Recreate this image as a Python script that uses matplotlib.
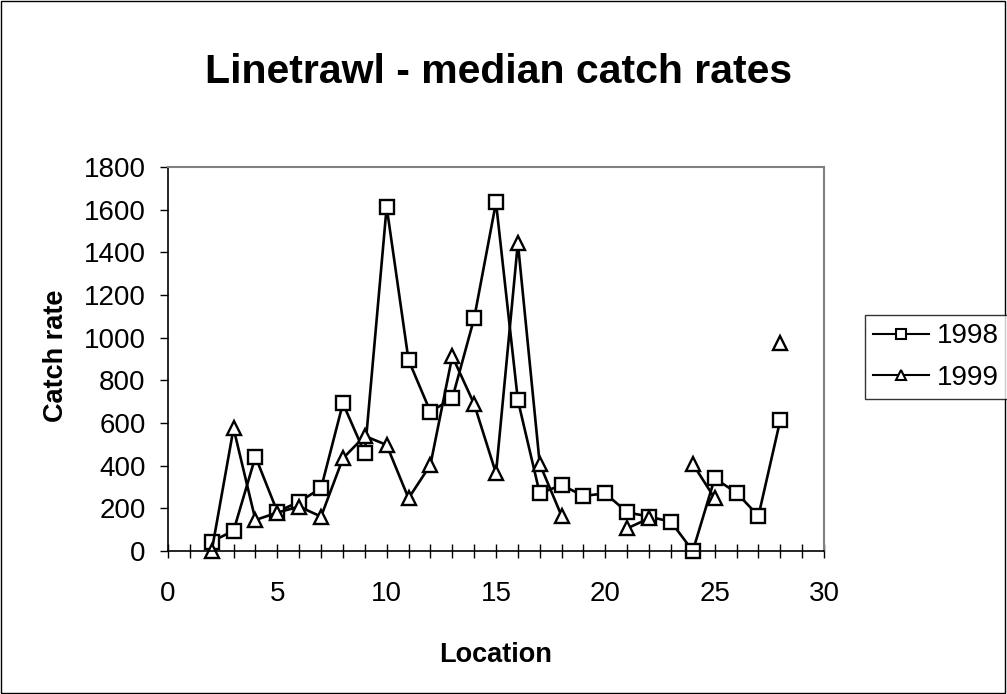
import numpy as np
import matplotlib.pyplot as plt
from matplotlib.patches import Rectangle

plt.rcParams['font.family'] = ['Liberation Sans', 'DejaVu Sans']

location = list(range(2, 29))
nan = np.nan
rate_1998 = [44, 95, 442, 184, 231, 294, 692, 458, 1613, 895, 653, 715, 1090, 1634,
             707, 270, 309, 258, 270, 181, 161, 137, 0, 340, 273, 164, 614]
rate_1999 = [0, 575, 145, 180, 208, 161, 434, 539, 497, 247, 403, 913, 689, 364,
             1444, 408, 164, nan, nan, 106, 153, nan, 408, 247, nan, nan, 973]

fig = plt.figure(figsize=(10.07, 6.94), dpi=100)
ax = fig.add_axes([0.1668, 0.2061, 0.6515, 0.5533])

ax.plot(location, rate_1998, color='black', lw=1.9, marker='s', ms=9.5,
        mfc='white', mec='black', mew=1.7, label='1998', clip_on=False)
ax.plot(location, rate_1999, color='black', lw=1.9, marker='^', ms=10.5,
        mfc='white', mec='black', mew=1.7, label='1999', clip_on=False)

ax.set_xlim(0, 30)
ax.set_ylim(0, 1800)
ax.set_xticks(range(0, 31, 5))
ax.set_xticks(range(0, 31), minor=True)
ax.set_yticks(range(0, 1801, 200))
ax.tick_params(axis='x', which='both', direction='inout', length=9.5, width=1,
               labelsize=20, pad=17)
ax.tick_params(axis='y', direction='out', length=6, width=1, labelsize=20, pad=10)
for s in ('top', 'right'):
    ax.spines[s].set_color('#808080')
    ax.spines[s].set_linewidth(1.5)
for s in ('left', 'bottom'):
    ax.spines[s].set_color('black')
    ax.spines[s].set_linewidth(1.2)

fig.text(0.495, 0.8804, 'Linetrawl - median catch rates', ha='center', va='baseline',
         fontsize=29.5, fontweight='bold')
fig.text(0.0626, 0.487, 'Catch rate', ha='center', va='baseline', rotation=90,
         rotation_mode='anchor', fontsize=19.5, fontweight='bold')
fig.text(0.492, 0.046, 'Location', ha='center', va='baseline',
         fontsize=19.5, fontweight='bold')

leg = fig.legend(loc='upper left', bbox_to_anchor=(0.859, 0.546), fontsize=20,
                 frameon=True, fancybox=False, edgecolor='black', handlelength=2.0,
                 handletextpad=0.3, borderpad=0.3, labelspacing=0.55, borderaxespad=0)
leg.get_frame().set_linewidth(1)
for h in leg.legend_handles:
    h.set_markersize(7.5)
    h.set_markeredgewidth(1.5)
    h.set_linewidth(1.5)

fig.patches.append(Rectangle((0.001, 0.001), 0.997, 0.997, transform=fig.transFigure,
                             fill=False, edgecolor='black', lw=1))

fig.savefig('out.png', dpi=100)
